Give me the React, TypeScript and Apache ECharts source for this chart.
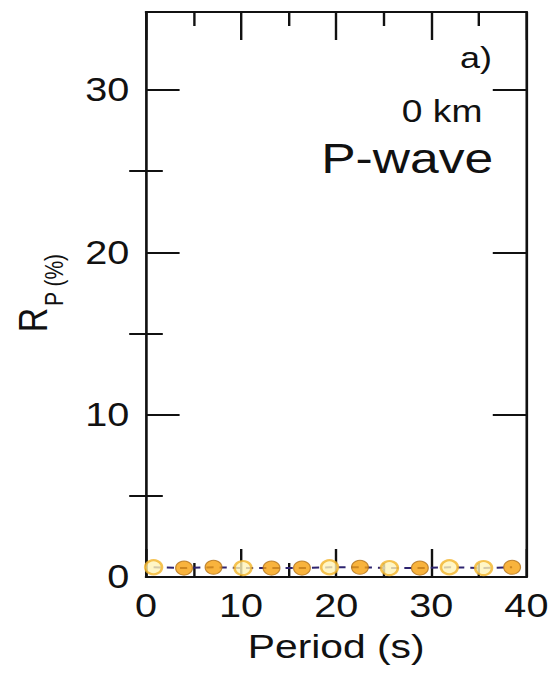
import React, { useEffect, useRef } from "react";
import * as echarts from "echarts";

// Period (s) of each sample, and the P-wave ratio R_P (%) at that period
const filledPeriods = [4.0, 7.1, 13.2, 16.4, 22.5, 28.8, 38.5];
const filledValues = [0.55, 0.6, 0.55, 0.55, 0.6, 0.55, 0.6];
const openPeriods = [0.8, 10.2, 19.3, 25.6, 31.9, 35.5];
const openValues = [0.6, 0.55, 0.6, 0.55, 0.6, 0.55];

const xTicks = [0, 10, 20, 30, 40];
const yMajorTicks = [0, 10, 20, 30];
const yMinorTicks = [5, 15, 25];

const panelLabel = "a)";
const depthLabel = "0 km";
const waveLabel = "P-wave";

// The plot is drawn narrow and widened horizontally as a whole
const STRETCH = 1.2;
const PAGE_W = 552;
const PAGE_H = 674;
const INNER_W = PAGE_W / STRETCH;

const FONT = "'Liberation Sans', Arial, Helvetica, sans-serif";

export default function App() {
  const ref = useRef<HTMLDivElement>(null);

  useEffect(() => {
    if (!ref.current) return;
    const chart = echarts.init(ref.current, undefined, { renderer: "svg" });

    const filled = filledPeriods.map((p, i) => [p, filledValues[i]]);
    const open = openPeriods.map((p, i) => [p, openValues[i]]);
    const joined = [...filled, ...open].sort((a, b) => a[0] - b[0]);

    const frameLine = { show: true, lineStyle: { color: "#111", width: 2.2 } };
    const tickStyle = { color: "#111", width: 2 };

    const xBase = (position: "bottom" | "top", labels: boolean) => ({
      type: "value",
      position,
      min: 0,
      max: 40,
      interval: 10,
      axisLine: { ...frameLine, onZero: false },
      axisTick: { show: true, inside: true, length: 28, lineStyle: tickStyle },
      minorTick: { show: true, splitNumber: 2, length: 14, lineStyle: tickStyle },
      splitLine: { show: false },
      axisLabel: labels
        ? {
            show: true,
            margin: 12,
            fontSize: 33,
            fontFamily: FONT,
            color: "#111",
            formatter: (v: number) => (xTicks.includes(v) ? String(v) : ""),
          }
        : { show: false },
    });

    const yMajor = (position: "left" | "right", labels: boolean) => ({
      type: "value",
      position,
      min: 0,
      max: 34.8,
      interval: 10,
      axisLine: { ...frameLine, onZero: false },
      axisTick: {
        show: true,
        inside: true,
        length: 28,
        lineStyle: tickStyle,
        customValues: yMajorTicks,
      },
      splitLine: { show: false },
      axisLabel: labels
        ? {
            show: true,
            margin: 14,
            fontSize: 33,
            fontFamily: FONT,
            color: "#111",
            customValues: yMajorTicks,
          }
        : { show: false },
    });

    const yMinor = (position: "left" | "right") => ({
      type: "value",
      position,
      min: 0,
      max: 34.8,
      interval: 10,
      axisLine: { show: false },
      axisTick: {
        show: true,
        inside: true,
        length: 14,
        lineStyle: tickStyle,
        customValues: yMinorTicks,
      },
      splitLine: { show: false },
      axisLabel: { show: false },
    });

    chart.setOption({
      animation: false,
      backgroundColor: "#ffffff",
      grid: {
        left: 146 / STRETCH,
        right: INNER_W - 527 / STRETCH,
        top: 12,
        bottom: PAGE_H - 577,
        containLabel: false,
      },
      xAxis: [
        {
          ...xBase("bottom", true),
          name: "Period (s)",
          nameLocation: "middle",
          nameGap: 52,
          nameTextStyle: { fontSize: 34, fontFamily: FONT, color: "#111" },
        },
        xBase("top", false),
      ],
      yAxis: [yMajor("left", true), yMajor("right", false), yMinor("left"), yMinor("right")],
      series: [
        {
          type: "line",
          data: joined,
          symbol: "none",
          lineStyle: { color: "#2e2470", width: 2, type: [6, 5] },
          z: 2,
        },
        {
          type: "scatter",
          data: open,
          symbol: "circle",
          symbolSize: 14,
          itemStyle: { color: "#fff4b8", borderColor: "#f2b42a", borderWidth: 2.2 },
          z: 3,
        },
        {
          type: "scatter",
          data: filled,
          symbol: "circle",
          symbolSize: 14,
          itemStyle: { color: "#f6a00c", borderColor: "#b0701a", borderWidth: 1 },
          z: 4,
        },
      ],
      graphic: [
        {
          type: "text",
          x: 410,
          y: 58,
          style: {
            text: panelLabel,
            fontSize: 30,
            fontFamily: FONT,
            fill: "#111",
            align: "right",
            verticalAlign: "middle",
          },
        },
        {
          type: "text",
          x: 402,
          y: 111,
          style: {
            text: depthLabel,
            fontSize: 31,
            fontFamily: FONT,
            fill: "#111",
            align: "right",
            verticalAlign: "middle",
          },
        },
        {
          type: "text",
          x: 411,
          y: 158,
          style: {
            text: waveLabel,
            fontSize: 43,
            fontFamily: FONT,
            fill: "#111",
            align: "right",
            verticalAlign: "middle",
          },
        },
        {
          type: "text",
          x: 44,
          y: 320,
          rotation: Math.PI / 2,
          style: {
            text: "R",
            fontSize: 34,
            fontFamily: FONT,
            fill: "#111",
            align: "center",
            verticalAlign: "bottom",
          },
        },
        {
          type: "text",
          x: 56,
          y: 280,
          rotation: Math.PI / 2,
          style: {
            text: "P (%)",
            fontSize: 21,
            fontFamily: FONT,
            fill: "#111",
            align: "center",
            verticalAlign: "bottom",
          },
        },
      ],
    });

    return () => chart.dispose();
  }, []);

  return (
    <div
      ref={ref}
      style={{
        position: "fixed",
        left: 0,
        top: 0,
        width: INNER_W,
        height: PAGE_H,
        transform: `scaleX(${STRETCH})`,
        transformOrigin: "0 0",
        background: "#fff",
      }}
    />
  );
}
